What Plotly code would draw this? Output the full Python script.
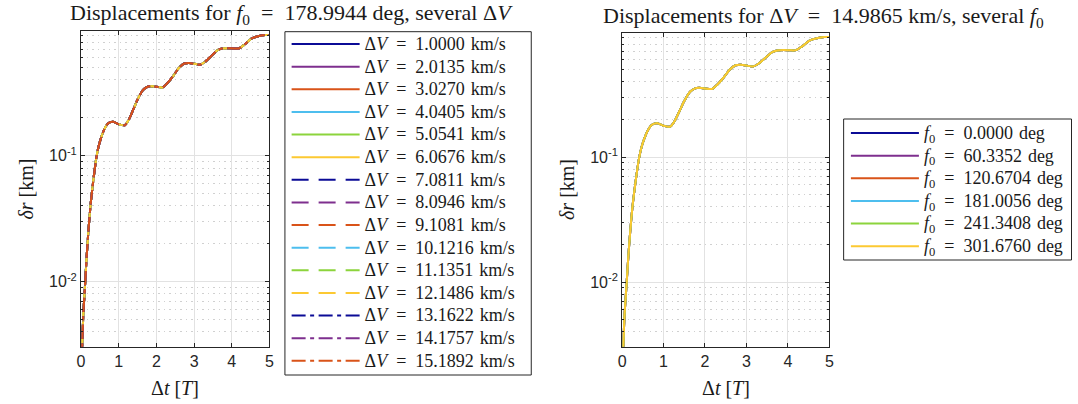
import numpy as np
import plotly.graph_objects as go

# Propagation time [orbital periods] and radial displacement [km]
dt = [0.0, 0.03, 0.06, 0.10, 0.15, 0.19, 0.25, 0.30, 0.35, 0.41, 0.47, 0.54,
      0.62, 0.72, 0.85, 1.00, 1.16, 1.26, 1.38, 1.50, 1.64, 1.75, 1.86, 2.00,
      2.17, 2.30, 2.43, 2.60, 2.74, 2.87, 3.00, 3.17, 3.30, 3.48, 3.62, 3.74,
      3.90, 4.05, 4.20, 4.35, 4.53, 4.70, 4.88, 5.00]
dr = [0.0008, 0.0030, 0.0055, 0.0088, 0.016, 0.024, 0.040, 0.055, 0.073, 0.098,
      0.120, 0.1415, 0.163, 0.181, 0.186, 0.178, 0.175, 0.192, 0.231, 0.280,
      0.332, 0.352, 0.357, 0.353, 0.350, 0.380, 0.424, 0.500, 0.541, 0.546,
      0.538, 0.530, 0.560, 0.630, 0.690, 0.711, 0.715, 0.712, 0.715, 0.770,
      0.855, 0.890, 0.910, 0.912]

# Impulse magnitudes [km/s] and initial true anomalies [deg]
dv_values = [1.0000, 2.0135, 3.0270, 4.0405, 5.0541, 6.0676, 7.0811, 8.0946,
             9.1081, 10.1216, 11.1351, 12.1486, 13.1622, 14.1757, 15.1892]
f0_values = [0.0000, 60.3352, 120.6704, 181.0056, 241.3408, 301.6760]
f0_fixed = 178.9944
dv_fixed = 14.9865

palette = ["#0b0b96", "#7e2f8e", "#d95319", "#4dbeee", "#8cd43c", "#fcc932"]
dashes = ["solid"] * 6 + ["17px,10px"] * 6 + ["14px,4.5px,4px,4.5px"] * 3

W, H = 1078, 404
def px(x):
    return x / W
def py(y):
    return 1 - y / H

SERIF = "Liberation Serif"
SANS = "Liberation Sans"
TXT = "#1a1a1a"
AX = "#262626"
LEG_SPAN = '<span style="font-size:18px">{}</span>'

fig = go.Figure()

for i, v in enumerate(dv_values):
    name = LEG_SPAN.format("Δ<i>V</i>\u2002=\u2002%.4f\u2004km/s" % v)
    fig.add_trace(go.Scatter(
        x=dt, y=dr, mode="lines", name=name, legend="legend",
        xaxis="x", yaxis="y",
        line=dict(color=palette[i % 6], width=2, dash=dashes[i], shape="spline", smoothing=0.8),
    ))

for i, f in enumerate(f0_values):
    name = LEG_SPAN.format("<i>f</i><sub>0</sub>\u2002=\u2002%.4f\u2004deg" % f)
    fig.add_trace(go.Scatter(
        x=dt, y=dr, mode="lines", name=name, legend="legend2",
        xaxis="x2", yaxis="y2",
        line=dict(color=palette[i % 6], width=2, shape="spline", smoothing=0.8),
    ))

minor_vals = [m * 10.0 ** e for e in (-3, -2, -1) for m in range(2, 10)]
yrange = [np.log10(0.00305), np.log10(0.985)]

def xax(dom, anchor):
    return dict(
        domain=dom, range=[0, 5], tickvals=[0, 1, 2, 3, 4, 5], anchor=anchor,
        ticks="inside", ticklen=4, tickwidth=1, tickcolor=AX,
        showline=True, linecolor=AX, linewidth=1, mirror="allticks",
        showgrid=True, gridcolor="#e2e2e2", gridwidth=1, zeroline=False,
        tickfont=dict(family=SANS, size=16, color=AX),
    )

def yax(dom, anchor):
    return dict(
        domain=dom, type="log", range=yrange, anchor=anchor,
        tickvals=[0.01, 0.1], ticktext=["10<sup>-2</sup>", "10<sup>-1</sup>"],
        ticks="inside", ticklen=4, tickwidth=1, tickcolor=AX,
        showline=True, linecolor=AX, linewidth=1, mirror="allticks",
        showgrid=True, gridcolor="#e2e2e2", gridwidth=1, zeroline=False,
        tickfont=dict(family=SANS, size=16, color=AX),
        minor=dict(tickvals=minor_vals, ticks="inside", ticklen=2, tickcolor=AX,
                   showgrid=True, gridcolor="#d0d0d0", griddash="1.5px,4px", gridwidth=1),
    )

legend_style = dict(xanchor="left", yanchor="top",
                    font=dict(family=SERIF, size=15.1, color=TXT), itemwidth=68,
                    bgcolor="rgba(0,0,0,0)", borderwidth=0, tracegroupgap=0)

fig.update_layout(
    width=W, height=H, margin=dict(l=0, r=0, t=0, b=0),
    paper_bgcolor="white", plot_bgcolor="white",
    xaxis=xax([px(77.7), px(267.7)], "y"),
    yaxis=yax([py(346.7), py(30.7)], "x"),
    xaxis2=xax([px(623.3), px(832.3)], "y2"),
    yaxis2=yax([py(346.7), py(32.7)], "x2"),
    legend=dict(x=px(285), y=py(27.7), **legend_style),
    legend2=dict(x=px(849), y=py(116.7), **legend_style),
    showlegend=True,
)

# legend frames
for (x0, x1, y0, y1) in [(283.3, 531.7, 31.7, 375.0), (846.7, 1076.5, 119.0, 260.0)]:
    fig.add_shape(type="rect", xref="paper", yref="paper",
                  x0=px(x0), x1=px(x1), y0=py(y1), y1=py(y0),
                  line=dict(color=AX, width=1), fillcolor="rgba(0,0,0,0)", layer="below")

ann = [
    (290.0, 14.0, "Displacements for <i>f</i><sub>0</sub>\u2002=\u2002%.4f deg, several Δ<i>V</i>" % f0_fixed, 22, 0),
    (826.0, 17.0, "Displacements for Δ<i>V</i>\u2002=\u2002%.4f km/s, several <i>f</i><sub>0</sub>" % dv_fixed, 22, 0),
    (172.7, 388.0, "Δ<i>t</i> [<i>T</i>]", 20, 0),
    (727.8, 388.0, "Δ<i>t</i> [<i>T</i>]", 20, 0),
    (22.0, 188.7, "<i>δr</i> [km]", 20, -90),
    (567.0, 189.7, "<i>δr</i> [km]", 20, -90),
]
for x, y, t, s, a in ann:
    fig.add_annotation(x=px(x), y=py(y), xref="paper", yref="paper", text=t,
                       showarrow=False, textangle=a, xanchor="center", yanchor="middle",
                       font=dict(family=SERIF, size=s, color=TXT))

fig.write_html("out.html")
